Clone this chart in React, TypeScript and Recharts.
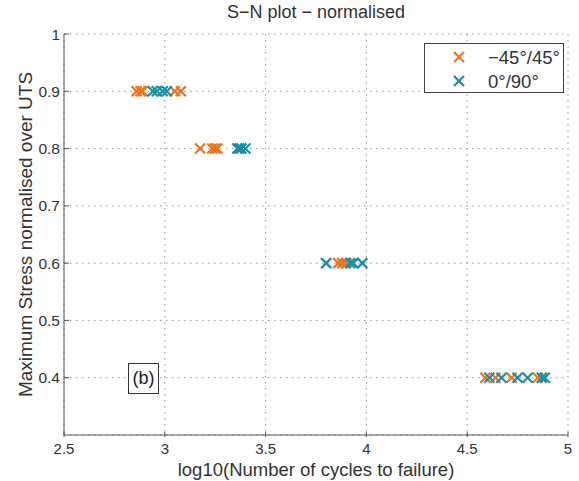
import { ScatterChart, Scatter, XAxis, YAxis, CartesianGrid } from 'recharts'

// log10(cycles), per stress level
const stressLevels = [0.9, 0.8, 0.6, 0.4]
const cyclesAngle45 = [
  [2.86, 2.88, 2.89, 3.05, 3.08],
  [3.175, 3.235, 3.25, 3.26],
  [3.86, 3.88, 3.9],
  [4.59, 4.64, 4.72, 4.85],
]
const cyclesAngle0 = [
  [2.94, 2.96, 2.99, 3.01],
  [3.36, 3.37, 3.38, 3.4],
  [3.8, 3.92, 3.935, 3.98],
  [4.61, 4.67, 4.75, 4.8, 4.87, 4.885],
]
const xTicks = [2.5, 3, 3.5, 4, 4.5, 5]
const yTicks = [0.4, 0.5, 0.6, 0.7, 0.8, 0.9, 1]

const ORANGE = '#EE7420'
const TEAL = '#1A8FA6'
const FONT = '"Liberation Sans", Arial, sans-serif'

function toPoints(cycles: number[][]) {
  return cycles.flatMap((row, i) => row.map((x) => ({ x, y: stressLevels[i] })))
}

const data45 = toPoints(cyclesAngle45)
const data0 = toPoints(cyclesAngle0)

function cross(color: string) {
  return (props: any) => {
    const { cx, cy } = props
    const r = 5
    return (
      <g stroke={color} strokeWidth={2.2}>
        <line x1={cx - r} y1={cy - r} x2={cx + r} y2={cy + r} />
        <line x1={cx - r} y1={cy + r} x2={cx + r} y2={cy - r} />
      </g>
    )
  }
}

// MATLAB style ticks: label outside, tick mark pointing into the plot
function XTick(props: any) {
  const { x, y, payload } = props
  return (
    <g>
      <line x1={x} y1={y} x2={x} y2={y - 5} stroke="#555" />
      <text x={x} y={y + 17} textAnchor="middle" fontSize={15} fill="#333" fontFamily={FONT}>
        {payload.value}
      </text>
    </g>
  )
}

function YTick(props: any) {
  const { x, y, payload } = props
  return (
    <g>
      <line x1={x + 2} y1={y} x2={x + 7} y2={y} stroke="#555" />
      <text x={x - 2} y={y + 5.5} textAnchor="end" fontSize={15.5} fill="#333" fontFamily={FONT}>
        {payload.value}
      </text>
    </g>
  )
}

export default function App() {
  return (
    <div style={{ position: 'absolute', left: 0, top: 0, width: 579, height: 481, background: '#fff', fontFamily: FONT }}>
      <div style={{ position: 'absolute', left: 64, width: 504, top: 2, textAlign: 'center', fontSize: 18, color: '#333' }}>
        S−N plot − normalised
      </div>
      <ScatterChart width={579} height={481} margin={{ top: 34, right: 11, left: 0, bottom: 0 }}>
        <CartesianGrid stroke="#999" strokeDasharray="1.5 4.5" />
        <XAxis
          type="number"
          dataKey="x"
          domain={[2.5, 5]}
          ticks={xTicks}
          height={46}
          stroke="#555"
          tickLine={false}
          tickSize={0}
          tick={<XTick />}
          label={{ value: 'log10(Number of cycles to failure)', position: 'insideBottom', offset: 5, fontSize: 18.5, fill: '#333', fontFamily: FONT }}
        />
        <YAxis
          type="number"
          dataKey="y"
          domain={[0.3, 1]}
          ticks={yTicks}
          width={64}
          stroke="#555"
          tickLine={false}
          tickSize={0}
          tick={<YTick />}
          label={{ value: 'Maximum Stress normalised over UTS', angle: -90, position: 'insideLeft', offset: 25, fontSize: 19, fill: '#333', fontFamily: FONT, style: { textAnchor: 'middle' } }}
        />
        <Scatter data={data45} shape={cross(ORANGE)} isAnimationActive={false} />
        <Scatter data={data0} shape={cross(TEAL)} isAnimationActive={false} />
      </ScatterChart>
      <div style={{ position: 'absolute', left: 424, top: 43, width: 138, height: 48, border: '1px solid #444', background: '#fff' }}>
        <svg width={138} height={48} style={{ position: 'absolute', left: 0, top: 0 }}>
          {cross(ORANGE)({ cx: 34, cy: 13 })}
          {cross(TEAL)({ cx: 34, cy: 37 })}
          <text x={63} y={20} fontSize={18.5} fill="#333" fontFamily={FONT}>−45°/45°</text>
          <text x={63} y={44} fontSize={18.5} fill="#333" fontFamily={FONT}>0°/90°</text>
        </svg>
      </div>
      <div style={{ position: 'absolute', left: 128, top: 363, width: 29, height: 29, border: '1px solid #333', background: '#fff', fontSize: 18, lineHeight: '29px', textAlign: 'center', color: '#222' }}>
        (b)
      </div>
    </div>
  )
}
